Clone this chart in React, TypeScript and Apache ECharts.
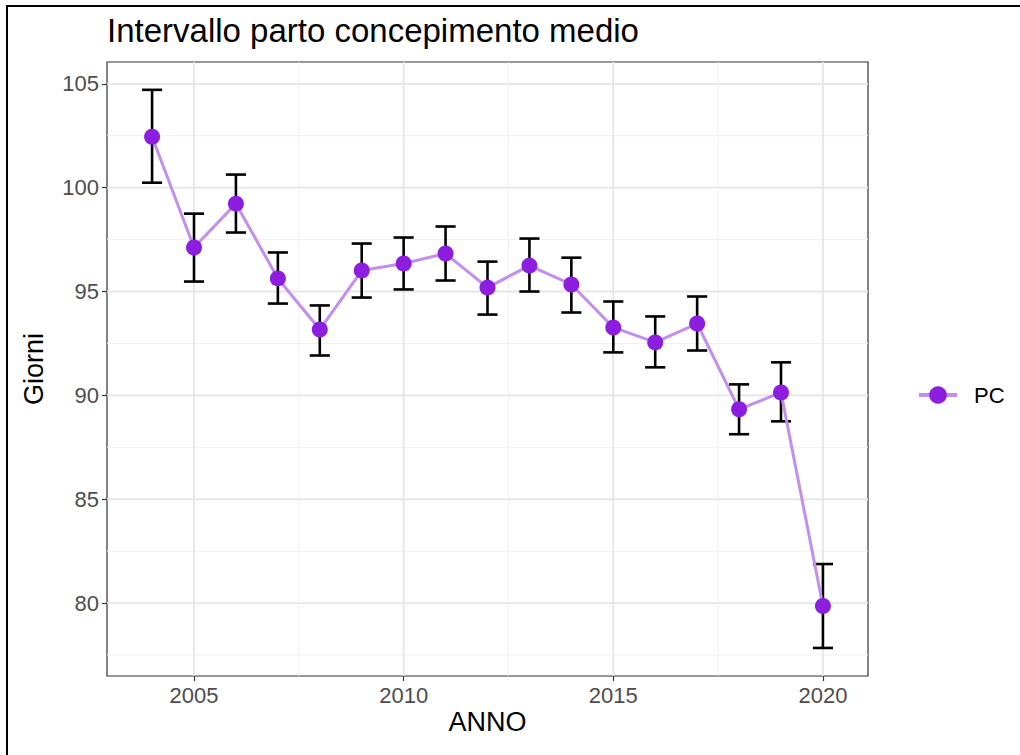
import React, { useEffect, useRef } from "react";
import * as echarts from "echarts";

const years = [2004, 2005, 2006, 2007, 2008, 2009, 2010, 2011, 2012, 2013, 2014, 2015, 2016, 2017, 2018, 2019, 2020];
const meanPC = [102.45, 97.12, 99.23, 95.63, 93.17, 96.01, 96.35, 96.83, 95.19, 96.25, 95.34, 93.27, 92.55, 93.46, 89.33, 90.14, 79.86];
const lowerPC = [100.24, 95.48, 97.84, 94.42, 91.92, 94.71, 95.1, 95.53, 93.89, 95.0, 93.99, 92.07, 91.35, 92.16, 88.13, 88.75, 77.84];
const upperPC = [104.71, 98.75, 100.63, 96.88, 94.33, 97.31, 97.6, 98.13, 96.44, 97.55, 96.63, 94.52, 93.8, 94.76, 90.53, 91.59, 81.88];

const xTicks = [2005, 2010, 2015, 2020];
const xMinor = [2007.5, 2012.5, 2017.5];
const yTicks = [80, 85, 90, 95, 100, 105];
const yMinor = [77.5, 82.5, 87.5, 92.5, 97.5, 102.5];

const FONT = "Liberation Sans, Arial, Helvetica, sans-serif";

export default function App() {
  const ref = useRef<HTMLDivElement>(null);
  useEffect(() => {
    if (!ref.current) return;
    const chart = echarts.init(ref.current, null, { renderer: "svg" });
    const X_MIN = 2002.925, X_MAX = 2021.075, Y_MIN = 76.49, Y_MAX = 106.05;

    const gridLineData = [
      ...yMinor.map((v) => [0, v, 0]),
      ...yTicks.map((v) => [0, v, 1]),
      ...xMinor.map((v) => [1, v, 0]),
      ...xTicks.map((v) => [1, v, 1]),
    ];

    const option: any = {
      animation: false,
      backgroundColor: "#ffffff",
      textStyle: { fontFamily: FONT },
      grid: {
        left: 107, top: 62, width: 761, height: 614,
        show: true, borderColor: "#333333", borderWidth: 1.2, backgroundColor: "#ffffff",
        containLabel: false, outerBoundsMode: "none",
      },
      xAxis: {
        type: "value", min: X_MIN, max: X_MAX,
        axisLine: { show: false },
        splitLine: { show: false },
        axisTick: { show: true, length: 5, customValues: xTicks, lineStyle: { color: "#333333", width: 1.2 } },
        axisLabel: { customValues: xTicks, margin: 8, fontSize: 22, color: "#4d4d4d", fontFamily: FONT, formatter: (v: number) => String(v) },
      },
      yAxis: {
        type: "value", min: Y_MIN, max: Y_MAX,
        axisLine: { show: false },
        splitLine: { show: false },
        axisTick: { show: true, length: 5, customValues: yTicks, lineStyle: { color: "#333333", width: 1.2 } },
        axisLabel: { customValues: yTicks, margin: 8, fontSize: 22, color: "#4d4d4d", fontFamily: FONT, formatter: (v: number) => String(v) },
      },
      legend: {
        data: ["PC"], left: 912, top: 379, orient: "vertical",
        itemWidth: 38, itemHeight: 22,
        lineStyle: { width: 4 },
        textStyle: { fontSize: 22, color: "#000000", fontFamily: FONT, padding: [0, 0, 0, 12] },
      },
      graphic: [
        { type: "line", shape: { x1: 6, y1: 6, x2: 1020, y2: 6 }, style: { stroke: "#000", lineWidth: 2 }, silent: true },
        { type: "line", shape: { x1: 7, y1: 5, x2: 7, y2: 755 }, style: { stroke: "#000", lineWidth: 2 }, silent: true },
        { type: "text", x: 107, y: 30, style: { text: "Intervallo parto concepimento medio", fontSize: 33, fontFamily: FONT, fill: "#000", textAlign: "left", textVerticalAlign: "middle" } },
        { type: "text", x: 487.5, y: 722, style: { text: "ANNO", fontSize: 27, fontFamily: FONT, fill: "#000", textAlign: "center", textVerticalAlign: "middle" } },
        { type: "text", x: 34, y: 369, rotation: Math.PI / 2, style: { text: "Giorni", fontSize: 27, fontFamily: FONT, fill: "#000", textAlign: "center", textVerticalAlign: "middle" } },
      ],
      series: [
        {
          type: "custom", z: 1, silent: true, clip: true,
          data: gridLineData,
          encode: { x: -1, y: -1 },
          renderItem: (params: any, api: any) => {
            const isX = api.value(0) === 1;
            const v = api.value(1);
            const major = api.value(2) === 1;
            const cs = params.coordSys;
            let shape;
            if (isX) {
              const px = api.coord([v, Y_MIN])[0];
              shape = { x1: px, y1: cs.y, x2: px, y2: cs.y + cs.height };
            } else {
              const py = api.coord([X_MIN, v])[1];
              shape = { x1: cs.x, y1: py, x2: cs.x + cs.width, y2: py };
            }
            return { type: "line", shape, style: { stroke: major ? "#e6e6e6" : "#f0f0f0", lineWidth: major ? 1.8 : 1 } };
          },
        },
        {
          type: "custom", z: 2, silent: true,
          data: years.map((y, i) => [y, lowerPC[i], upperPC[i]]),
          encode: { x: 0, y: [1, 2] },
          renderItem: (params: any, api: any) => {
            const x = api.value(0);
            const lo = api.coord([x, api.value(1)]);
            const hi = api.coord([x, api.value(2)]);
            const half = api.size([0.24, 0])[0];
            const st = { stroke: "#000000", lineWidth: 2.6 };
            return {
              type: "group",
              children: [
                { type: "line", shape: { x1: lo[0], y1: lo[1], x2: hi[0], y2: hi[1] }, style: st },
                { type: "line", shape: { x1: lo[0] - half, y1: lo[1], x2: lo[0] + half, y2: lo[1] }, style: st },
                { type: "line", shape: { x1: hi[0] - half, y1: hi[1], x2: hi[0] + half, y2: hi[1] }, style: st },
              ],
            };
          },
        },
        {
          name: "PC", type: "line", z: 3,
          data: years.map((y, i) => [y, meanPC[i]]),
          symbol: "circle", symbolSize: 16, showSymbol: true,
          itemStyle: { color: "#8e1edf" },
          lineStyle: { color: "#c38fec", width: 3 },
        },
      ],
    };
    chart.setOption(option);
    return () => chart.dispose();
  }, []);
  return <div ref={ref} style={{ position: "absolute", left: 0, top: 0, width: 1020, height: 755 }} />;
}
